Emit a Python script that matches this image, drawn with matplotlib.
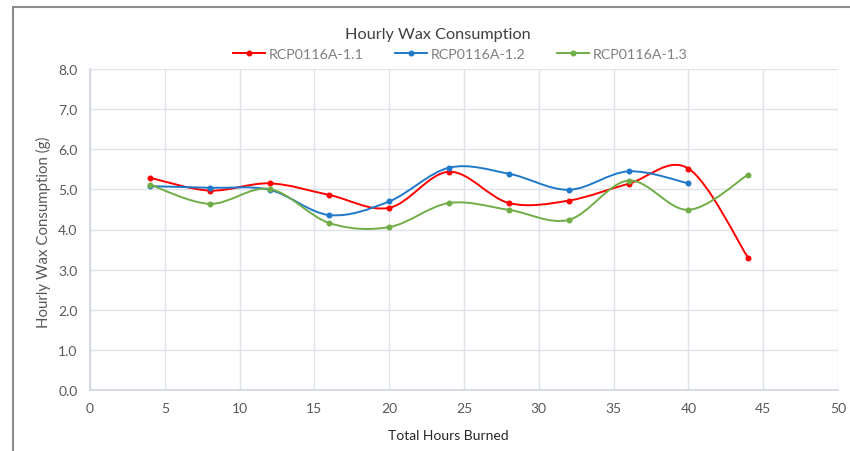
import matplotlib
matplotlib.use("Agg")

import matplotlib.pyplot as plt
import numpy as np
from matplotlib.path import Path
from matplotlib.patches import PathPatch, Rectangle
from matplotlib.lines import Line2D

hours = [4, 8, 12, 16, 20, 24, 28, 32, 36, 40, 44]
series_names = ["RCP0116A-1.1", "RCP0116A-1.2", "RCP0116A-1.3"]
wax_11 = [5.29, 4.97, 5.15, 4.86, 4.54, 5.44, 4.66, 4.72, 5.14, 5.52, 3.29]
wax_12 = [5.08, 5.04, 4.99, 4.36, 4.70, 5.54, 5.39, 4.99, 5.45, 5.15]
wax_13 = [5.12, 4.64, 5.01, 4.16, 4.06, 4.66, 4.49, 4.24, 5.22, 4.49, 5.37]

COLORS = ["#ff0000", "#1f78c8", "#70ad47"]
GRID = "#dfe2e8"
TEXT_GREY = "#595959"

plt.rcParams["font.family"] = ["Lato", "DejaVu Sans"]


def smooth_path(xs, ys):
    """Excel-style smoothed line: cubic Bezier segments with Catmull-Rom control points."""
    pts = np.column_stack([xs, ys]).astype(float)
    verts = [pts[0]]
    codes = [Path.MOVETO]
    n = len(pts)
    for i in range(n - 1):
        p0 = pts[i - 1] if i > 0 else pts[i]
        p1 = pts[i]
        p2 = pts[i + 1]
        p3 = pts[i + 2] if i + 2 < n else pts[i + 1]
        c1 = p1 + (p2 - p0) / 6
        c2 = p2 - (p3 - p1) / 6
        verts += [c1, c2, p2]
        codes += [Path.CURVE4] * 3
    return Path(verts, codes)


fig = plt.figure(figsize=(8.5, 4.52), dpi=100)
ax = fig.add_axes([90 / 850, 1 - 391 / 452, 748 / 850, 321 / 452])

for ys, color, name in zip([wax_11, wax_12, wax_13], COLORS, series_names):
    xs = hours[:len(ys)]
    ax.add_patch(PathPatch(smooth_path(xs, ys), facecolor="none",
                           edgecolor=color, lw=1.4, zorder=3))
    ax.plot(xs, ys, ls="none", marker="o", ms=3.3, color=color, zorder=4)

ax.set_xlim(0, 50)
ax.set_ylim(0, 8)
ax.set_xticks(range(0, 51, 5))
ax.set_yticks(np.arange(0, 8.1, 1.0))
ax.set_yticklabels([f"{v:.1f}" for v in np.arange(0, 8.1, 1.0)])
ax.grid(True, color=GRID, lw=1.0, zorder=0)
ax.tick_params(length=0, labelsize=10, colors=TEXT_GREY, pad=9)
for side in ["top", "right"]:
    ax.spines[side].set_visible(False)
for side in ["left", "bottom"]:
    ax.spines[side].set_color("#d0d5de")
    ax.spines[side].set_linewidth(1.2)

ax.set_xlabel("Total Hours Burned", fontsize=10, color="#262626")
ax.xaxis.set_label_coords((448 - 90) / 748, (391 - 430) / 321)
ax.set_ylabel("Hourly Wax Consumption (g)", fontsize=10.8, color=TEXT_GREY)
ax.yaxis.set_label_coords((51 - 90) / 748, (391 - 232) / 321)

fig.text(0.515, 1 - 35 / 452, "Hourly Wax Consumption", ha="center", va="center",
         fontsize=11.7, color="#404040")
handles = [Line2D([], [], color=c, lw=1.4, marker="o", ms=3.3) for c in COLORS]
fig.legend(handles, series_names, loc="center", bbox_to_anchor=(460 / 850, 1 - 55 / 452),
           ncol=3, frameon=False, fontsize=10.3, labelcolor="#7f7f7f",
           handlelength=2.24, handletextpad=0.28, columnspacing=2.17)

fig.patches.append(Rectangle((13 / 850, -0.05), 1.0, 1 - 8 / 452 + 0.05,
                             transform=fig.transFigure, fill=False,
                             edgecolor="#8c8c8c", lw=1.5))

fig.savefig("out.png", dpi=100)
